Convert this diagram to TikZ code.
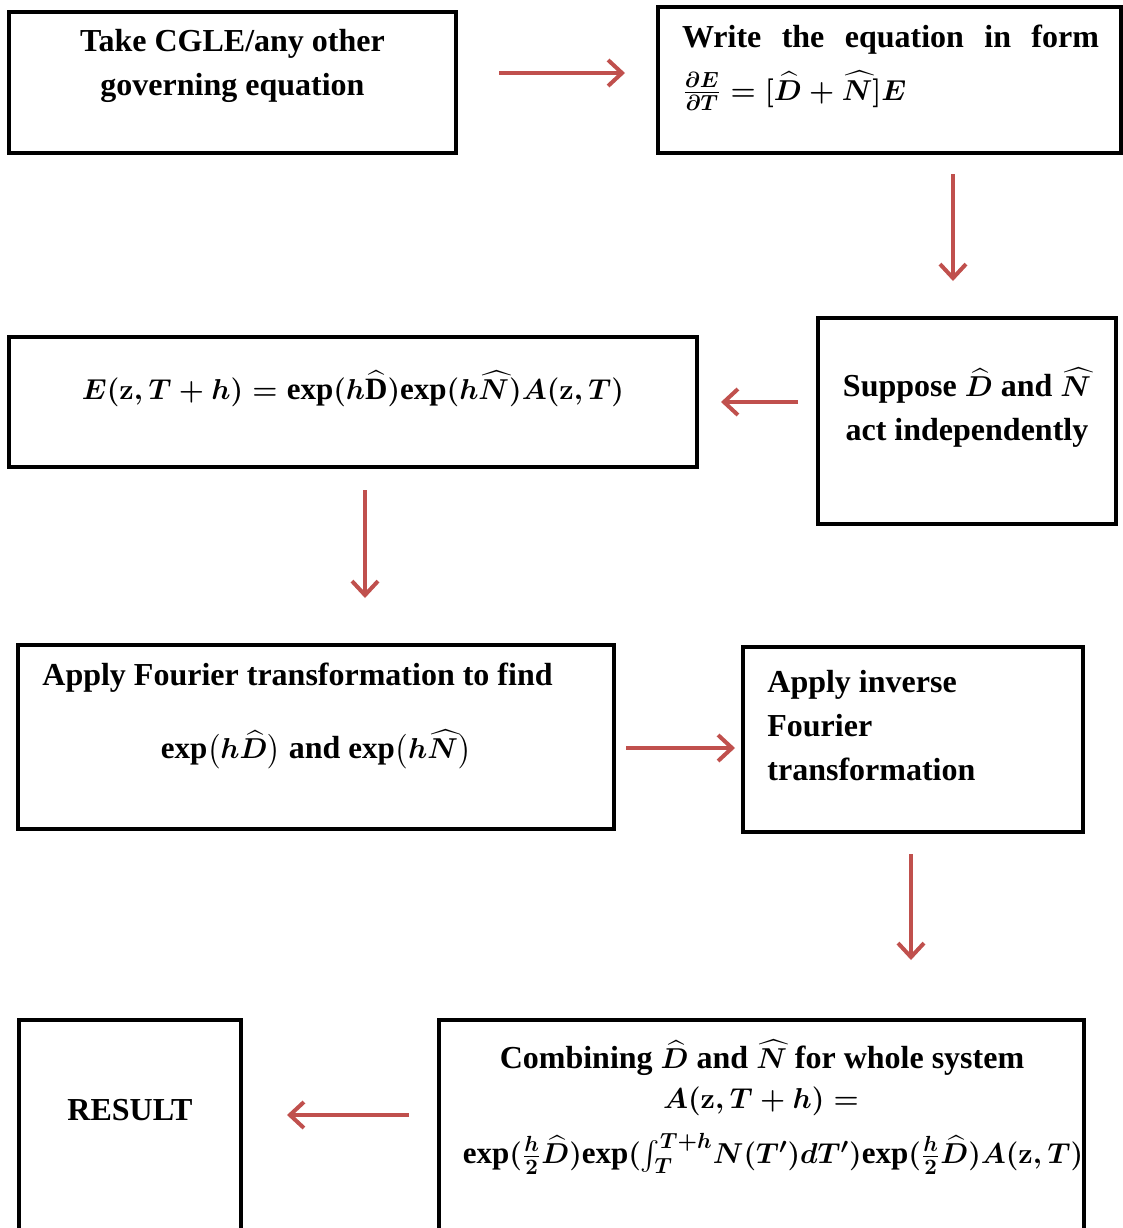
\documentclass[tikz,border=0pt]{standalone}
\usepackage{amsmath}
\usepackage{fontspec}
\setmainfont{Liberation Serif}
\usetikzlibrary{arrows.meta}
\definecolor{flowred}{HTML}{C0504D}
\DeclareMathSizes{16}{15.5}{11}{8}
\newcommand\ex{\mathrm{exp}}
\tikzset{
  box/.style={draw,line width=2pt,inner sep=0pt},
  txt/.style={inner sep=0pt,font=\fontsize{16}{22}\selectfont\bfseries\boldmath},
  flow/.style={draw=flowred,line width=2pt,-{Straight Barb[length=7pt,width=13pt]}},
}
\begin{document}
\begin{tikzpicture}[x=0.5pt,y=-0.5pt]
  \useasboundingbox (0,0) rectangle (1123,1228);
  % boxes
  \node[box,minimum width=223.5pt,minimum height=70.5pt] (take) at (232.5,82.5) {};
  \node[box,minimum width=231.5pt,minimum height=73pt] (write) at (889.5,80) {};
  \node[box,minimum width=149pt,minimum height=103pt] (suppose) at (967,421) {};
  \node[box,minimum width=344pt,minimum height=65pt] (split) at (353,402) {};
  \node[box,minimum width=298pt,minimum height=92pt] (fourier) at (316,737) {};
  \node[box,minimum width=170pt,minimum height=92.5pt] (inverse) at (913,739.5) {};
  \node[box,minimum width=111pt,minimum height=120pt] (result) at (130,1140) {};
  \node[box,minimum width=322.5pt,minimum height=120pt] (combine) at (761.5,1140) {};
  % texts
  \node[txt,align=center] (takeT) at (232.5,66) {Take CGLE/any other\\governing equation};
  \node[txt] (writeT) at (890.5,40) {\makebox[208.5pt][s]{Write the equation in form}};
  \node[txt,anchor=west] (writeM) at (682,91) {$\frac{\partial E}{\partial T}=[\widehat{D}+\widehat{N}]E$};
  \node[txt,align=center] (supposeT) at (967,407.5) {Suppose $\widehat{D}$ and $\widehat{N}$\\act independently};
  \node[txt] (splitM) at (353,389) {$E(\mathbf{z},T+h)=\ex(h\widehat{\mathrm{D}})\ex(h\widehat{N})A(\mathbf{z},T)$};
  \node[txt,anchor=west] (fourierT) at (42,678) {Apply Fourier transformation to find};
  \node[txt] (fourierM) at (316,749) {$\ex\bigl(h\widehat{D}\bigr)$ and $\ex\bigl(h\widehat{N}\bigr)$};
  \node[txt,anchor=west,align=left] (inverseT) at (767,725.5) {Apply inverse\\Fourier\\transformation};
  \node[txt] (resultT) at (130,1110) {RESULT};
  \node[txt] (combineT) at (762,1058) {Combining $\widehat{D}$ and $\widehat{N}$ for whole system};
  \node[txt] (combineM) at (761,1101) {$A(\mathbf{z},T+h)=$};
  \node[txt] (combineN) at (773,1154) {$\ex(\frac{h}{2}\widehat{D})\ex(\int_T^{T+h}\!N(T')dT')\ex(\frac{h}{2}\widehat{D})A(\mathbf{z},T)$};
  % connectors
  \draw[flow,shorten <=20.5pt,shorten >=15.5pt] ([yshift=4.75pt]take.east) -- ([yshift=4.75pt]take.east -| write.west);
  \draw[flow,shorten <=9.5pt,shorten >=17.5pt] ([xshift=31.75pt]write.south) -- ([xshift=31.75pt]write.south |- suppose.north);
  \draw[flow,shorten <=9pt,shorten >=11pt] (suppose.west |- split.east) -- (split.east);
  \draw[flow,shorten <=10.5pt,shorten >=22.5pt] ([xshift=6pt]split.south) -- ([xshift=6pt]split.south |- fourier.north);
  \draw[flow,shorten <=5pt,shorten >=3pt] ([yshift=-5.5pt]fourier.east) -- ([yshift=-5.5pt]fourier.east -| inverse.west);
  \draw[flow,shorten <=10pt,shorten >=29pt] ([xshift=-1pt]inverse.south) -- ([xshift=-1pt]inverse.south |- combine.north);
  \draw[flow,shorten <=14pt,shorten >=22pt] ([yshift=12.5pt]combine.west) -- ([yshift=12.5pt]combine.west -| result.east);
\end{tikzpicture}
\end{document}
